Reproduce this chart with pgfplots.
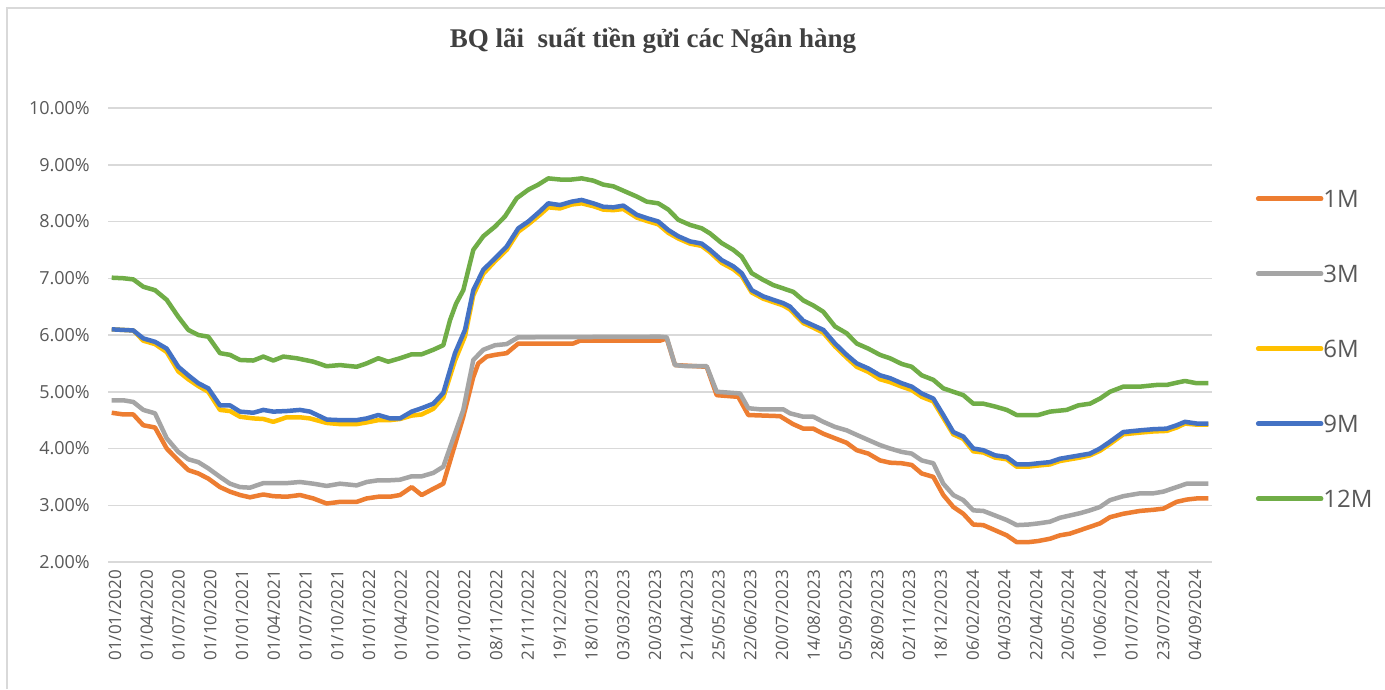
\documentclass[border=0pt]{standalone}
\usepackage{pgfplots}
\pgfplotsset{compat=1.18}
\usepackage{fontspec}
\setmainfont{Open Sans}
\newfontfamily\titlefont{Liberation Serif}
\definecolor{c1M}{HTML}{ED7D31}
\definecolor{c3M}{HTML}{A5A5A5}
\definecolor{c6M}{HTML}{FFC000}
\definecolor{c9M}{HTML}{4472C4}
\definecolor{c12M}{HTML}{70AD47}
\definecolor{txt}{HTML}{595959}
\definecolor{gridc}{HTML}{D9D9D9}
\begin{document}
\begin{tikzpicture}[x=1pt,y=1pt]
\useasboundingbox (0,0) rectangle (1385,689);
\fill[white] (0,0) rectangle (1385,689);
\draw[gridc, line width=2pt] (7,0) -- (7,681) -- (1385,681);
\begin{axis}[
  at={(108pt,127pt)}, anchor=south west,
  scale only axis, width=1104pt, height=454pt,
  xmin=108, xmax=1212, ymin=2, ymax=10,
  axis line style={draw=none},
  major tick length=0pt,
  ymajorgrids, grid style={gridc, line width=1.5pt},
  ytick={2,3,4,5,6,7,8,9,10},
  /pgf/number format/assume math mode=true,
  yticklabel={\pgfmathprintnumber[fixed,fixed zerofill,precision=2]{\tick}\%},
  yticklabel style={anchor=east, inner sep=0pt, xshift=-18pt, font=\fontsize{18}{18}\selectfont, text=txt},
  xtick={115.0,146.8,178.5,210.3,242.1,273.8,305.6,337.4,369.1,400.9,432.6,464.4,496.2,527.9,559.7,591.5,623.2,655.0,686.8,718.5,750.3,782.1,813.8,845.6,877.4,909.1,940.9,972.7,1004.4,1036.2,1067.9,1099.7,1131.5,1163.2,1195.0},
  xticklabels={01/01/2020,01/04/2020,01/07/2020,01/10/2020,01/01/2021,01/04/2021,01/07/2021,01/10/2021,01/01/2022,01/04/2022,01/07/2022,01/10/2022,08/11/2022,21/11/2022,19/12/2022,18/01/2023,03/03/2023,20/03/2023,21/04/2023,25/05/2023,22/06/2023,20/07/2023,14/08/2023,05/09/2023,28/09/2023,02/11/2023,18/12/2023,06/02/2024,04/03/2024,22/04/2024,20/05/2024,10/06/2024,01/07/2024,23/07/2024,04/09/2024},
  xticklabel style={rotate=90, anchor=east, inner sep=0pt, xshift=-8pt, font=\fontsize{17}{17}\selectfont, text=txt},
  title={BQ lãi\ \ suất tiền gửi các Ngân hàng},
  title style={at={(0.4937,1.119)}, anchor=base, inner sep=0pt, font=\titlefont\bfseries\fontsize{27}{27}\selectfont, text=black!75},
  legend style={at={(1.0369,0.8238)}, anchor=north west, draw=none, fill=none, row sep=58pt,
    font=\fontsize{24}{24}\selectfont, text=txt,
    nodes={inner sep=0pt, text height=17pt, text depth=0pt},
    /tikz/every odd column/.append style={column sep=0pt}},
  legend cell align=left,
  legend image code/.code={\draw[#1, line cap=round] (0pt,0pt) -- (63pt,0pt);},
  every axis plot/.append style={line width=4.5pt, line join=round, no markers},
]
\addplot[c1M] table {
x y
111.7 4.63
123.3 4.60
133.3 4.60
143.3 4.41
155 4.37
166.7 4.00
178.3 3.79
188.3 3.62
198.3 3.56
208.3 3.47
220 3.32
230 3.24
240 3.18
250 3.14
263.3 3.19
273.3 3.16
286.7 3.15
300 3.18
313.3 3.12
326.7 3.03
340 3.06
356.7 3.06
366.7 3.12
378.3 3.15
390 3.15
400 3.18
411.7 3.32
421.7 3.18
433.3 3.29
443.3 3.38
453.3 3.97
463.3 4.56
473.3 5.26
478.3 5.50
486.7 5.62
495 5.65
506.7 5.68
518.3 5.85
530 5.85
573.3 5.85
580 5.90
660 5.90
666.7 5.94
675 5.47
706.7 5.44
716.7 4.94
738.3 4.91
748.3 4.59
780 4.57
793 4.43
803.3 4.35
813.3 4.35
823.3 4.26
835 4.18
846.7 4.10
856.7 3.97
868.3 3.91
880 3.79
890 3.75
901.7 3.74
911.7 3.71
921.7 3.56
933.3 3.50
943.3 3.18
953.3 2.97
963.3 2.85
973.3 2.66
983.3 2.65
995 2.56
1006.7 2.47
1016.7 2.35
1028.3 2.35
1038.3 2.37
1050 2.41
1060 2.47
1070 2.50
1080 2.56
1090 2.62
1100 2.68
1110 2.79
1123.3 2.85
1140 2.90
1153.3 2.92
1163.3 2.94
1176.7 3.06
1186.7 3.10
1196.7 3.12
1208.3 3.12
};
\addlegendentry{1M}
\addplot[c3M] table {
x y
111.7 4.85
123.3 4.85
133.3 4.82
143.3 4.68
155 4.62
166.7 4.18
178.3 3.94
188.3 3.81
198.3 3.76
208.3 3.65
220 3.50
230 3.38
240 3.32
250 3.31
263.3 3.39
273.3 3.39
286.7 3.39
300 3.41
313.3 3.38
326.7 3.34
340 3.38
356.7 3.35
366.7 3.41
378.3 3.44
390 3.44
400 3.45
411.7 3.51
421.7 3.51
433.3 3.57
443.3 3.68
453.3 4.18
463.3 4.68
473.3 5.56
483.3 5.74
495 5.82
506.7 5.84
518.3 5.96
530 5.96
660 5.97
666.7 5.96
675 5.47
686.7 5.45
706.7 5.45
716.7 5.00
740 4.97
748.3 4.71
760 4.69
783.3 4.69
790 4.62
803.3 4.56
813.3 4.56
823.3 4.47
835 4.38
846.7 4.32
856.7 4.24
868.3 4.15
880 4.06
890 4.00
901.7 3.94
911.7 3.91
921.7 3.79
933.3 3.74
943.3 3.38
953.3 3.18
963.3 3.09
973.3 2.91
983.3 2.90
995 2.82
1006.7 2.74
1016.7 2.65
1028.3 2.66
1038.3 2.68
1050 2.71
1060 2.78
1070 2.82
1080 2.86
1090 2.91
1100 2.97
1110 3.09
1123.3 3.16
1140 3.21
1153.3 3.21
1163.3 3.24
1176.7 3.32
1186.7 3.38
1196.7 3.38
1208.3 3.38
};
\addlegendentry{3M}
\addplot[c6M] table {
x y
111.7 6.10
133.3 6.08
143.3 5.90
155 5.84
166.7 5.70
178.3 5.36
188.3 5.22
198.3 5.10
208.3 5.00
220 4.68
230 4.66
240 4.56
253.3 4.53
263.3 4.52
273.3 4.47
286.7 4.55
300 4.55
310 4.53
326.7 4.45
340 4.43
356.7 4.43
366.7 4.46
378.3 4.50
390 4.50
400 4.52
411.7 4.58
421.7 4.60
433.3 4.70
443.3 4.90
455 5.55
465 5.98
473.3 6.70
483.3 7.08
495 7.30
506.7 7.50
518.3 7.82
528.3 7.95
540 8.12
548.3 8.25
560 8.23
571.7 8.30
581.7 8.32
593.3 8.27
603.3 8.21
613.3 8.20
623.3 8.22
636.7 8.07
646.7 8.01
658.3 7.95
668.3 7.80
678.3 7.70
690 7.61
701.7 7.57
710 7.46
721.7 7.27
733.3 7.16
741.7 7.04
751.7 6.75
763.3 6.64
773.3 6.58
783.3 6.52
790 6.45
803.3 6.21
813.3 6.13
823.3 6.04
835 5.80
846.7 5.60
856.7 5.44
868.3 5.35
880 5.22
890 5.17
901.7 5.09
911.7 5.03
921.7 4.91
933.3 4.83
943.3 4.54
953.3 4.25
963.3 4.17
973.3 3.95
983.3 3.93
995 3.84
1006.7 3.81
1016.7 3.68
1028.3 3.68
1038.3 3.70
1050 3.72
1060 3.78
1070 3.81
1080 3.84
1090 3.88
1100 3.96
1110 4.08
1123.3 4.25
1140 4.28
1153.3 4.30
1166.7 4.31
1176.7 4.37
1185 4.44
1196.7 4.42
1208.3 4.42
};
\addlegendentry{6M}
\addplot[c9M] table {
x y
111.7 6.10
133.3 6.08
143.3 5.94
155 5.88
166.7 5.76
178.3 5.44
188.3 5.29
198.3 5.15
208.3 5.06
220 4.76
230 4.76
240 4.65
253.3 4.63
263.3 4.68
273.3 4.65
286.7 4.66
300 4.68
310 4.65
326.7 4.51
340 4.50
356.7 4.50
366.7 4.53
378.3 4.59
390 4.53
400 4.53
411.7 4.65
421.7 4.71
433.3 4.79
443.3 4.98
455 5.68
465 6.09
473.3 6.79
483.3 7.15
495 7.35
506.7 7.56
518.3 7.88
528.3 8.00
540 8.18
548.3 8.32
560 8.29
571.7 8.35
581.7 8.38
593.3 8.32
603.3 8.26
613.3 8.25
623.3 8.28
636.7 8.12
646.7 8.06
658.3 8.00
668.3 7.85
678.3 7.74
690 7.65
701.7 7.61
710 7.50
721.7 7.32
733.3 7.21
741.7 7.09
751.7 6.79
763.3 6.68
773.3 6.62
783.3 6.56
790 6.50
803.3 6.25
813.3 6.17
823.3 6.09
835 5.85
846.7 5.65
856.7 5.50
868.3 5.41
880 5.29
890 5.24
901.7 5.15
911.7 5.09
921.7 4.97
933.3 4.88
943.3 4.59
953.3 4.29
963.3 4.21
973.3 4.00
983.3 3.97
995 3.88
1006.7 3.85
1016.7 3.72
1028.3 3.72
1038.3 3.74
1050 3.76
1060 3.82
1070 3.85
1080 3.88
1090 3.91
1100 4.00
1110 4.12
1123.3 4.29
1140 4.32
1153.3 4.34
1166.7 4.35
1176.7 4.41
1185 4.47
1196.7 4.44
1208.3 4.44
};
\addlegendentry{9M}
\addplot[c12M] table {
x y
111.7 7.01
123.3 7.00
133.3 6.98
143.3 6.85
155 6.79
166.7 6.62
178.3 6.32
188.3 6.09
198.3 6.00
208.3 5.97
220 5.68
230 5.65
240 5.56
253.3 5.55
263.3 5.62
273.3 5.55
283.3 5.62
296.7 5.59
313.3 5.53
326.7 5.45
340 5.47
356.7 5.44
366.7 5.50
378.3 5.59
388.3 5.53
400 5.59
411.7 5.66
421.7 5.66
433.3 5.74
443.3 5.82
450 6.26
456 6.55
463.3 6.79
473.3 7.50
483.3 7.74
495 7.91
505 8.09
516.7 8.41
528.3 8.56
538.3 8.65
548.3 8.76
560 8.74
571.7 8.74
581.7 8.76
593.3 8.72
603.3 8.65
613.3 8.62
625 8.53
636.7 8.44
646.7 8.35
658.3 8.32
668.3 8.21
678.3 8.03
690 7.94
701.7 7.88
710 7.79
721.7 7.62
733.3 7.50
741.7 7.38
751.7 7.09
763.3 6.97
773.3 6.88
783.3 6.82
793.3 6.76
803.3 6.61
813.3 6.52
823.3 6.41
835 6.15
846.7 6.03
856.7 5.85
868.3 5.76
880 5.65
890 5.59
901.7 5.49
911.7 5.44
921.7 5.29
933.3 5.21
943.3 5.06
953.3 5.00
963.3 4.94
973.3 4.79
983.3 4.79
995 4.74
1006.7 4.68
1016.7 4.59
1028.3 4.59
1038.3 4.59
1050 4.65
1066.7 4.68
1078.3 4.76
1090 4.79
1100 4.88
1110 5.00
1123.3 5.09
1140 5.09
1156.7 5.12
1166.7 5.12
1176.7 5.16
1185 5.19
1196.7 5.15
1208.3 5.15
};
\addlegendentry{12M}
\end{axis}
\end{tikzpicture}
\end{document}
